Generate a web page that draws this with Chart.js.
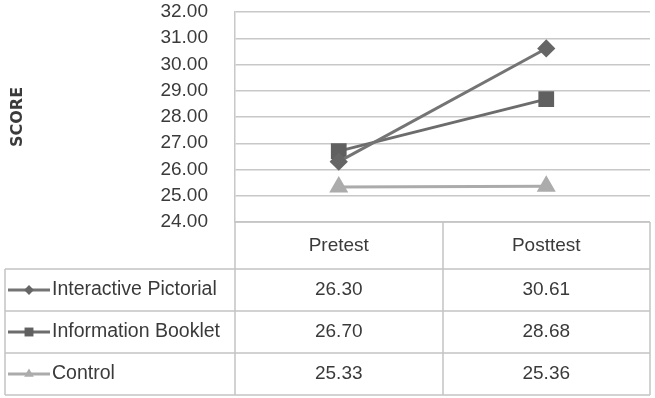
<!DOCTYPE html>
<html>
<head>
<meta charset="utf-8">
<script src="https://cdn.jsdelivr.net/npm/chart.js@4/dist/chart.umd.min.js"></script>
<style>
  html, body { margin: 0; padding: 0; background: #fff; }
  #wrap { width: 655px; height: 398px; position: relative; }
</style>
</head>
<body>
<div id="wrap"><canvas id="scoreChart"></canvas></div>
<script>
// Data
const categories = ['Pretest', 'Posttest'];
const seriesNames = ['Interactive Pictorial', 'Information Booklet', 'Control'];
const interactivePictorial = [26.30, 30.61];
const informationBooklet = [26.70, 28.68];
const control = [25.33, 25.36];
const yMin = 24;
const yMax = 32;
const yStep = 1;

const FONT = "'Liberation Sans', Arial, sans-serif";
const TEXT = '#3a3a3a';

// draws the data table under the plot, using the x scale for the columns
const dataTable = {
    id: 'dataTable',
    afterDraw(chart) {
        const ctx = chart.ctx;
        const area = chart.chartArea;
        const xs = chart.scales.x;
        const colW = (area.right - area.left) / categories.length;
        const tableLeft = 5;
        const headerTop = area.bottom;
        const headerBottom = headerTop + 47;
        const rowH = 42;
        const rows = chart.data.datasets.length;
        const tableBottom = headerBottom + rows * rowH;

        ctx.save();
        ctx.strokeStyle = '#c4c4c4';
        ctx.lineWidth = 1.5;
        ctx.beginPath();
        // vertical lines
        for (let i = 0; i <= categories.length; i++) {
            const px = Math.round(area.left + i * colW);
            ctx.moveTo(px, headerTop);
            ctx.lineTo(px, tableBottom);
        }
        ctx.moveTo(tableLeft, headerBottom);
        ctx.lineTo(tableLeft, tableBottom);
        // horizontal lines
        ctx.moveTo(area.left, headerTop);
        ctx.lineTo(area.right, headerTop);
        for (let r = 0; r <= rows; r++) {
            const py = Math.round(headerBottom + r * rowH);
            ctx.moveTo(tableLeft, py);
            ctx.lineTo(area.right, py);
        }
        ctx.stroke();

        ctx.fillStyle = TEXT;
        ctx.font = '19px ' + FONT;
        ctx.textAlign = 'center';
        ctx.textBaseline = 'middle';
        categories.forEach((c, i) => {
            ctx.fillText(c, xs.getPixelForValue(i), (headerTop + headerBottom) / 2);
        });

        chart.data.datasets.forEach((ds, r) => {
            const cy = headerBottom + r * rowH + rowH / 2;
            // legend key
            ctx.strokeStyle = ds.borderColor;
            ctx.fillStyle = ds.pointBackgroundColor;
            ctx.lineWidth = 3;
            ctx.beginPath();
            ctx.moveTo(8, cy);
            ctx.lineTo(50, cy);
            ctx.stroke();
            Chart.helpers.drawPoint(ctx, {
                pointStyle: ds.pointStyle,
                radius: ds.pointRadius * 0.7,
                rotation: 0,
                borderWidth: 0
            }, 29, cy);

            ctx.fillStyle = TEXT;
            ctx.font = '19.5px ' + FONT;
            ctx.textAlign = 'left';
            ctx.fillText(ds.label, 52, cy);
            ctx.font = '19px ' + FONT;
            ctx.textAlign = 'center';
            ds.data.forEach((v, j) => {
                ctx.fillText(v.toFixed(2), xs.getPixelForValue(j), cy);
            });
        });
        ctx.restore();
    }
};

const ctx = document.getElementById('scoreChart').getContext('2d');

new Chart(ctx, {
    type: 'line',
    data: {
        labels: categories,
        datasets: [{
            label: seriesNames[0],
            data: interactivePictorial,
            borderColor: '#747474',
            pointBackgroundColor: '#666666',
            pointBorderColor: '#666666',
            pointStyle: 'rectRot',
            pointRadius: 7,
            borderWidth: 3
        }, {
            label: seriesNames[1],
            data: informationBooklet,
            borderColor: '#6c6c6c',
            pointBackgroundColor: '#606060',
            pointBorderColor: '#606060',
            pointStyle: 'rect',
            pointRadius: 9,
            borderWidth: 3
        }, {
            label: seriesNames[2],
            data: control,
            borderColor: '#ababab',
            pointBackgroundColor: '#acacac',
            pointBorderColor: '#acacac',
            pointStyle: 'triangle',
            pointRadius: 8,
            borderWidth: 3
        }]
    },
    options: {
        responsive: true,
        maintainAspectRatio: false,
        animation: false,
        layout: {
            autoPadding: false,
            padding: { top: 12, right: 5, bottom: 176, left: 0 }
        },
        plugins: {
            legend: { display: false },
            tooltip: { enabled: false }
        },
        scales: {
            x: {
                display: false,
                offset: true,
                ticks: { display: false }
            },
            y: {
                min: yMin,
                max: yMax,
                afterFit(scale) { scale.width = 235; },
                ticks: {
                    stepSize: yStep,
                    padding: 0,
                    color: TEXT,
                    font: { family: FONT, size: 19 },
                    callback: (v) => v.toFixed(2)
                },
                grid: {
                    color: '#c8c8c8',
                    lineWidth: 1.5,
                    drawTicks: true,
                    tickLength: 27,
                    tickColor: 'rgba(0,0,0,0)'
                },
                border: { color: '#c8c8c8', width: 1.5 },
                title: {
                    display: true,
                    text: 'SCORE',
                    color: TEXT,
                    font: { family: "'DejaVu Sans', sans-serif", size: 16, weight: 'bold' },
                    padding: { top: 8, bottom: 0 }
                }
            }
        }
    },
    plugins: [dataTable]
});
</script>
</body>
</html>
